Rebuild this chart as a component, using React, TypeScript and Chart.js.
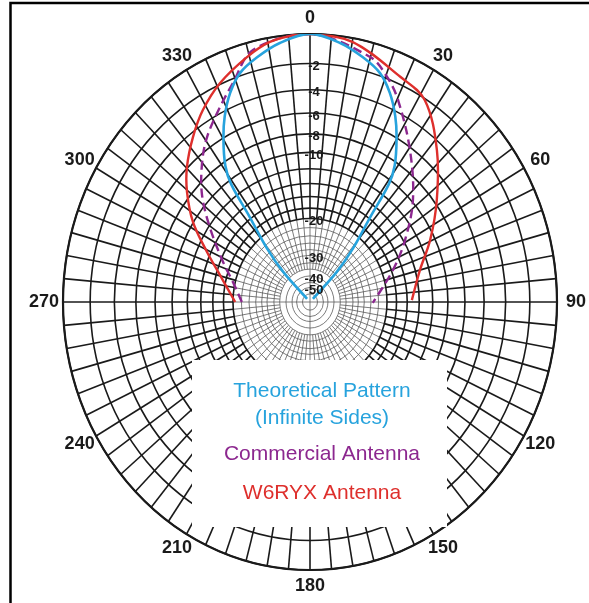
import React, { useEffect, useRef } from "react";
import { Chart, registerables } from "chart.js";

Chart.register(...registerables);

// ---- Data (angle in degrees, signed: negative = left of 0°; gain in dB) ----
const theoreticalAngles = [-45, -44, -41, -37.5, -36, -34, -30, -26.5, -22.5, -18.3, -13.2, -7.2, 0, 7.2, 13.2, 18.3, 22.5, 26.5, 30, 34, 36, 37.5, 41, 44, 45];
const theoreticalDb = [-70, -32, -22.7, -15.5, -10.5, -8.4, -6.1, -4.4, -2.9, -1.8, -1.1, -0.45, 0, -0.45, -1.1, -1.8, -2.9, -4.4, -6.1, -8.4, -10.5, -15.5, -22.7, -32, -70];

const commercialAngles = [-90, -76.5, -67, -55.7, -47.6, -40.1, -34.1, -26.6, -20.9, -13.8, 0, 14.9, 20.4, 25.3, 35.5, 47.6, 59, 70.4, 90.8];
const commercialDb = [-22.1, -19.5, -16.5, -12.25, -9.0, -6.66, -5.09, -3.54, -2.3, -0.56, 0, -0.95, -1.89, -3.12, -6.2, -9.82, -13.75, -17.7, -23.5];

const w6ryxAngles = [-90, -74.6, -65.9, -57.8, -50.5, -44.7, -37.6, -31.2, -24, -15.6, -9.5, -4, 0, 10, 23.5, 31.7, 42.2, 53.5, 64.5, 75, 89];
const w6ryxDb = [-20.5, -16.7, -13.45, -9.96, -7.52, -5.92, -4.34, -3.05, -1.91, -0.9, -0.28, -0.05, 0, -0.25, -1.5, -2.1, -4.6, -7.7, -10.6, -13.3, -15.2];

const majorRingsDb = [0, -2, -4, -6, -8, -10, -12, -14, -16, -18, -20];
const minorRingsDb = [-22, -24, -26, -28, -30, -33, -36, -40, -45, -50, -60];
const ringLabelsDb = [-2, -4, -6, -8, -10, -20, -30, -40, -50];
const angleLabels = [0, 30, 60, 90, 120, 150, 180, 210, 240, 270, 300, 330];
const legendLines = ["Theoretical Pattern", "(Infinite Sides)", "Commercial Antenna", "W6RYX Antenna"];

// ---- Styles ----
const BLUE = "#27a3dd";
const PURPLE = "#8c278f";
const RED = "#de2f2c";
const legendColors = [BLUE, BLUE, PURPLE, RED];
const FONT = '"Liberation Sans", Arial, sans-serif';

// ARRL log-periodic radial scale: each 2 dB shrinks the radius to 0.89
const radiusOf = (db: number) => Math.pow(0.89, -db / 2);
const toXY = (deg: number, db: number) => {
  const a = (deg * Math.PI) / 180;
  const r = radiusOf(db);
  return { x: r * Math.sin(a), y: r * Math.cos(a) };
};
const series = (angles: number[], dbs: number[]) => angles.map((a, i) => toXY(a, dbs[i]));

const polarGrid = {
  id: "polarGrid",
  beforeDatasetsDraw(chart: any) {
    const { ctx, scales } = chart;
    const xs = scales.x, ys = scales.y;
    const cx = xs.getPixelForValue(0), cy = ys.getPixelForValue(0);
    const sx = xs.getPixelForValue(1) - cx, sy = cy - ys.getPixelForValue(1);
    const ring = (db: number) => {
      const r = radiusOf(db);
      ctx.beginPath();
      ctx.ellipse(cx, cy, sx * r, sy * r, 0, 0, Math.PI * 2);
      ctx.stroke();
    };
    const spoke = (deg: number, r1: number, r2: number) => {
      const a = (deg * Math.PI) / 180;
      ctx.beginPath();
      ctx.moveTo(cx + sx * r1 * Math.sin(a), cy - sy * r1 * Math.cos(a));
      ctx.lineTo(cx + sx * r2 * Math.sin(a), cy - sy * r2 * Math.cos(a));
      ctx.stroke();
    };
    ctx.save();
    // fine inner grid
    ctx.strokeStyle = "#5a5a5a";
    ctx.lineWidth = 0.8;
    minorRingsDb.forEach(ring);
    for (let d = 0; d < 360; d += 5) spoke(d, radiusOf(-20), radiusOf(-36));
    for (let d = 0; d < 360; d += 90) spoke(d, radiusOf(-36), 0);
    // bold outer grid
    ctx.strokeStyle = "#1a1a1a";
    ctx.lineWidth = 1.6;
    majorRingsDb.forEach(ring);
    for (let d = 0; d < 360; d += 5) spoke(d, 1, radiusOf(-20));
    ctx.lineWidth = 2.2;
    ring(0);
    ctx.restore();
  },
  afterDatasetsDraw(chart: any) {
    const { ctx, scales } = chart;
    const xs = scales.x, ys = scales.y;
    const cx = xs.getPixelForValue(0), cy = ys.getPixelForValue(0);
    const sx = xs.getPixelForValue(1) - cx, sy = cy - ys.getPixelForValue(1);
    ctx.save();
    // legend panel
    ctx.fillStyle = "#ffffff";
    ctx.fillRect(192, 360, 255, 167);
    ctx.textAlign = "center";
    ctx.textBaseline = "middle";
    ctx.font = `21px ${FONT}`;
    const ly = [391, 418, 454, 493];
    legendLines.forEach((t, i) => {
      ctx.fillStyle = legendColors[i];
      ctx.fillText(t, 322, ly[i]);
    });
    // ring labels
    ctx.fillStyle = "#1a1a1a";
    ctx.font = `bold 13px ${FONT}`;
    ringLabelsDb.forEach((db) => {
      ctx.fillText(String(db), cx + 4, cy - sy * radiusOf(db) + 3);
    });
    // angle labels
    ctx.font = `bold 18px ${FONT}`;
    angleLabels.forEach((deg) => {
      const a = (deg * Math.PI) / 180;
      ctx.fillText(String(deg), cx + (sx + 19) * Math.sin(a), cy - (sy + 16) * Math.cos(a));
    });
    // frame (top & left edges)
    ctx.strokeStyle = "#000000";
    ctx.lineWidth = 2.5;
    ctx.beginPath();
    ctx.moveTo(10.5, 603);
    ctx.lineTo(10.5, 3);
    ctx.lineTo(589, 3);
    ctx.stroke();
    ctx.restore();
  },
};

export default function App() {
  const ref = useRef<HTMLCanvasElement | null>(null);
  useEffect(() => {
    if (!ref.current) return;
    const chart = new Chart(ref.current, {
      type: "scatter",
      data: {
        datasets: [
          {
            label: "Theoretical Pattern (Infinite Sides)",
            data: series(theoreticalAngles, theoreticalDb),
            showLine: true,
            borderColor: BLUE,
            borderWidth: 2.6,
            pointRadius: 0,
            tension: 0.35,
          },
          {
            label: "W6RYX Antenna",
            data: series(w6ryxAngles, w6ryxDb),
            showLine: true,
            borderColor: RED,
            borderWidth: 2.4,
            pointRadius: 0,
            tension: 0.35,
          },
          {
            label: "Commercial Antenna",
            data: series(commercialAngles, commercialDb),
            showLine: true,
            borderColor: PURPLE,
            borderWidth: 2.4,
            borderDash: [9, 5],
            pointRadius: 0,
            tension: 0.35,
          },
        ],
      },
      options: {
        animation: false,
        responsive: false,
        maintainAspectRatio: false,
        layout: { padding: { left: 63, right: 32, top: 34, bottom: 33 } },
        scales: {
          x: { type: "linear", min: -1, max: 1, display: false },
          y: { type: "linear", min: -1, max: 1, display: false },
        },
        plugins: { legend: { display: false }, tooltip: { enabled: false } },
      },
      plugins: [polarGrid],
    });
    return () => chart.destroy();
  }, []);
  return (
    <div style={{ position: "fixed", left: 0, top: 0, width: 589, height: 603, background: "#fff" }}>
      <canvas ref={ref} width={589} height={603} />
    </div>
  );
}
